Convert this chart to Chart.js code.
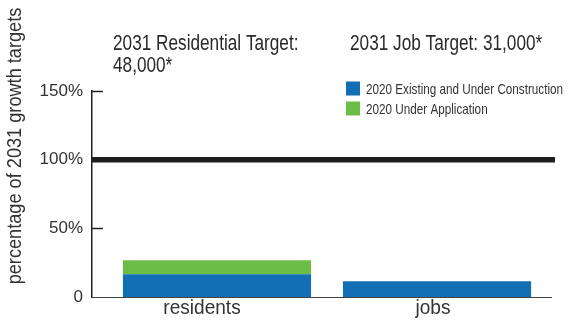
<!DOCTYPE html>
<html>
<head>
<meta charset="utf-8">
<script src="https://cdn.jsdelivr.net/npm/chart.js@4/dist/chart.umd.min.js"></script>
<style>
  html, body { margin: 0; padding: 0; background: #ffffff; }
  #wrap { width: 580px; height: 320px; position: relative; }
</style>
</head>
<body>
<div id="wrap"><canvas id="c" width="580" height="320"></canvas></div>
<script>
// Growth toward 2031 targets, as a percentage of each target
const categories = ['residents', 'jobs'];
const existingUnderConstruction = [16.5, 11.4];
const underApplication = [10.2, 0];
const seriesLabels = ['2020 Existing and Under Construction', '2020 Under Application'];
const yTickValues = [0, 50, 100, 150];
const targetLevel = 100;
const targetTitles = [['2031 Residential Target:', '48,000*'], ['2031 Job Target: 31,000*']];
const yAxisTitle = 'percentage of 2031 growth targets';

const FONT = "'Liberation Sans', Arial, sans-serif";
const BLUE = '#126eb5';
const GREEN = '#6cbd45';
const INK = '#333333';

// Condensed-looking text: draw with a horizontal squeeze
function squeezedText(ctx, text, x, y, size, sx, align) {
  ctx.save();
  ctx.font = size + 'px ' + FONT;
  ctx.textAlign = align || 'left';
  ctx.translate(x, y);
  ctx.scale(sx, 1);
  ctx.fillText(text, 0, 0);
  ctx.restore();
}

// Target line, inner tick marks, category labels, axis title, captions and legend
const annotations = {
  id: 'annotations',
  afterDraw(chart, args, o) {
    const ctx = chart.ctx;
    const x = chart.scales.x;
    const y = chart.scales.y;
    const area = chart.chartArea;
    ctx.save();

    // short tick marks pointing into the plot
    ctx.strokeStyle = '#222';
    ctx.lineWidth = 1.5;
    yTickValues.forEach(v => {
      if (v === 0) return;
      const py = Math.round(y.getPixelForValue(v)) + 0.5;
      ctx.beginPath();
      ctx.moveTo(area.left, py);
      ctx.lineTo(area.left + o.tickLen, py);
      ctx.stroke();
    });

    // target line at 100%
    const ty = y.getPixelForValue(targetLevel);
    ctx.strokeStyle = '#1e1e1e';
    ctx.lineWidth = o.targetWidth;
    ctx.beginPath();
    ctx.moveTo(area.left, ty);
    ctx.lineTo(area.right + o.targetOverhang, ty);
    ctx.stroke();

    // category labels under the baseline
    ctx.fillStyle = INK;
    ctx.textBaseline = 'alphabetic';
    categories.forEach((c, i) => {
      squeezedText(ctx, c, x.getPixelForValue(i) + o.labelNudge[i], o.labelBaseline, o.labelSize, o.labelSx, 'center');
    });

    // rotated y-axis title
    ctx.save();
    ctx.textBaseline = 'middle';
    ctx.translate(o.axisTitleX, o.axisTitleY);
    ctx.rotate(-Math.PI / 2);
    squeezedText(ctx, yAxisTitle, 0, 0, o.axisTitleSize, o.axisTitleSx, 'center');
    ctx.restore();

    // target captions above each category
    ctx.fillStyle = '#2a2a2a';
    ctx.textBaseline = 'alphabetic';
    targetTitles.forEach((lines, i) => {
      lines.forEach((line, j) => {
        squeezedText(ctx, line, o.captionX[i], o.captionY + j * o.captionLine, o.captionSize, o.captionSx, 'left');
      });
    });

    // legend
    ctx.textBaseline = 'middle';
    chart.data.datasets.forEach((ds, i) => {
      const cy = o.legendY + i * o.legendRow;
      ctx.fillStyle = ds.backgroundColor;
      ctx.fillRect(o.legendX, cy - o.legendBox / 2, o.legendBox, o.legendBox);
      ctx.fillStyle = INK;
      squeezedText(ctx, ds.label, o.legendX + o.legendBox + 6, cy + 1, o.legendSize, o.legendSx, 'left');
    });

    ctx.restore();
  }
};

const toPoints = arr => arr.map((v, i) => ({ x: i, y: v }));

new Chart(document.getElementById('c'), {
  type: 'bar',
  data: {
    datasets: [
      { label: seriesLabels[0], data: toPoints(existingUnderConstruction), backgroundColor: BLUE },
      { label: seriesLabels[1], data: toPoints(underApplication), backgroundColor: GREEN }
    ]
  },
  options: {
    responsive: false,
    animation: false,
    devicePixelRatio: 1,
    layout: { padding: { top: 91, right: 29, left: 0, bottom: 0 } },
    datasets: { bar: { barPercentage: 0.855, categoryPercentage: 1.0, borderWidth: 0 } },
    plugins: {
      legend: { display: false },
      tooltip: { enabled: false },
      annotations: {
        tickLen: 11,
        targetWidth: 5.5,
        targetOverhang: 4,
        labelNudge: [-15, -4],
        labelBaseline: 314,
        labelSize: 20.5,
        labelSx: 0.93,
        axisTitleSize: 21,
        axisTitleSx: 0.865,
        axisTitleX: 15,
        axisTitleY: 146,
        captionSize: 21.5,
        captionSx: 0.80,
        captionX: [113, 350],
        captionY: 50,
        captionLine: 21.5,
        legendSize: 15,
        legendSx: 0.78,
        legendX: 346,
        legendY: 88.5,
        legendRow: 20,
        legendBox: 14
      }
    },
    scales: {
      x: {
        type: 'linear',
        stacked: true,
        offset: false,
        min: -0.568,
        max: 1.518,
        afterBuildTicks(scale) { scale.ticks = categories.map((c, i) => ({ value: i })); },
        grid: { display: false, drawTicks: false, offset: false },
        border: { display: true, color: '#444', width: 1 },
        ticks: { display: false },
        afterFit(scale) { scale.height = 23; }
      },
      y: {
        stacked: true,
        min: 0,
        max: 150,
        afterBuildTicks(scale) { scale.ticks = yTickValues.map(v => ({ value: v })); },
        grid: { display: false, drawTicks: false },
        border: { display: true, color: '#222', width: 1.5 },
        ticks: {
          color: INK,
          font: { family: FONT, size: 17 },
          padding: 9,
          callback: v => (v === 0 ? '0' : v + '%')
        },
        afterFit(scale) { scale.width = 92; }
      }
    }
  },
  plugins: [annotations]
});
</script>
</body>
</html>
